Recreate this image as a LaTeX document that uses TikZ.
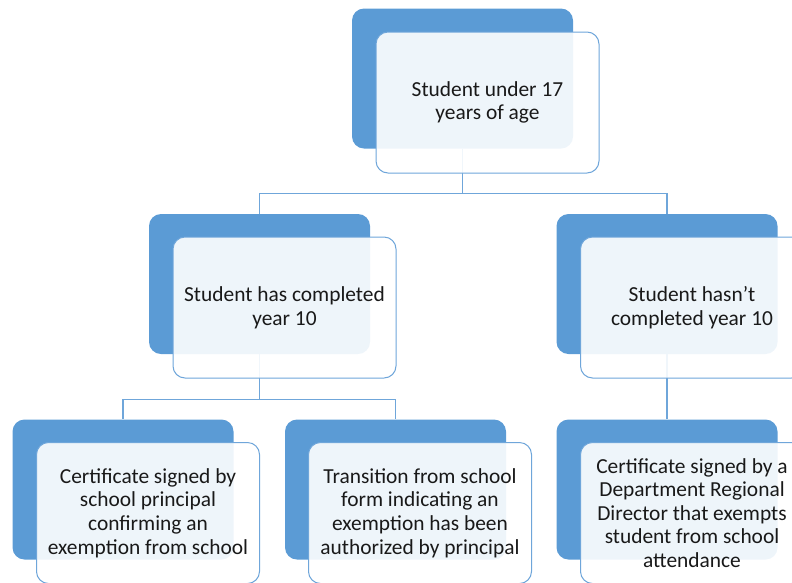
\documentclass[tikz,border=0pt]{standalone}
\usepackage{fontspec}
\setmainfont{Carlito}
\definecolor{accent}{HTML}{5B9BD5}
\definecolor{edgeblue}{HTML}{6FA6DA}
\begin{document}
\begin{tikzpicture}[x=1pt,y=-1pt,
  back/.style={fill=accent, draw=none, rounded corners=12pt,
    minimum width=221pt, minimum height=140pt, inner sep=0pt},
  card/.style={fill=white, fill opacity=0.9, text opacity=1, draw=edgeblue,
    line width=1pt, rounded corners=12pt, minimum width=223pt, minimum height=141pt,
    inner sep=0pt, align=center, font=\fontsize{21.4pt}{23.6pt}\selectfont, text=black!90},
  link/.style={draw=edgeblue, line width=1.3pt}]
\path[use as bounding box, clip] (0,0) rectangle (792,582);

% blue backing tiles
\node[back] (tb) at (462.5,78.5) {};
\node[back] (lb) at (259.5,284) {};
\node[back] (rb) at (667,284) {};
\node[back] (b1b) at (123,489.5) {};
\node[back] (b2b) at (395.5,489.5) {};
\node[back] (b3b) at (667,489.5) {};

% connectors (drawn before the translucent cards)
\draw[link] (tb.south) -- ++(0,44.5) coordinate (j1);
\draw[link] (j1) -| (lb.north);
\draw[link] (j1) -| (rb.north);
\draw[link] (lb.south) -- ++(0,45) coordinate (j2);
\draw[link] (j2) -| (b1b.north);
\draw[link] (j2) -| (b2b.north);
\draw[link] (rb.south) -- (b3b.north);

% front cards with text
\node[card] (t) at (487.5,102.5) {Student under 17\\years of age};
\node[card] (l) at (284.5,307.5) {Student has completed\\year 10};
\node[card] (r) at (692,307.5) {Student hasn’t\\completed year 10};
\node[card] (b1) at (148,513) {Certificate signed by\\school principal\\confirming an\\exemption from school};
\node[card] (b2) at (420,513) {Transition from school\\form indicating an\\exemption has been\\authorized by principal};
\node[card] (b3) at (692,513) {Certificate signed by a\\Department Regional\\Director that exempts\\student from school\\attendance};
\end{tikzpicture}
\end{document}
